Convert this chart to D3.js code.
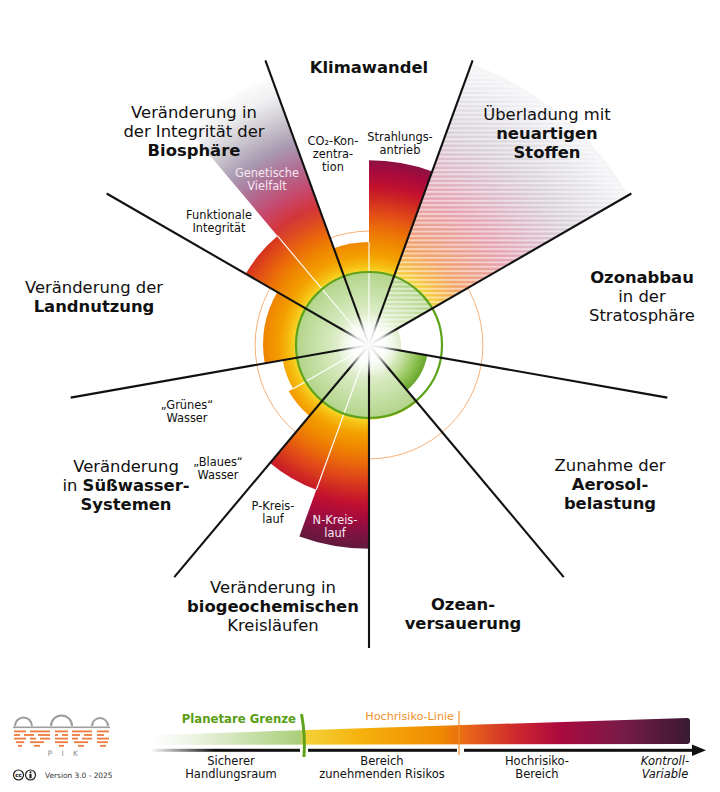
<!DOCTYPE html>
<html><head><meta charset="utf-8">
<script src="https://cdn.jsdelivr.net/npm/d3@7"></script>
<style>
body{margin:0;background:#fff}
svg{display:block}
text{font-family:"DejaVu Sans",sans-serif}
</style>
</head><body>
<svg id="chart" width="720" height="792"></svg>
<script>
// ---------------- DATA ----------------
const sectorNames = ["Klimawandel","Neuartige Stoffe","Ozonabbau","Aerosolbelastung","Ozeanversauerung",
  "Biogeochemische Kreisläufe","Süßwasser","Landnutzung","Biosphäre"];
const wedgeNames  = ["CO2-Konzentration","Strahlungsantrieb","Neuartige Stoffe","Ozonabbau","Aerosole",
  "Ozeanversauerung","N-Kreislauf","P-Kreislauf","Blaues Wasser","Grünes Wasser","Landnutzung",
  "Funktionale Integrität","Genetische Vielfalt"];
const wedgeSector = [0,0,1,2,3,4,5,5,6,6,7,8,8];
const wedgeHalf   = [0,1,2,2,2,2,0,1,0,1,2,0,1];     // 0 = first half, 1 = second half, 2 = whole sector
const wedgeValue  = [1.41,2.53,4.1,0.44,0.81,1.02,2.79,2.11,1.27,1.20,1.45,1.95,3.9]; // in units of the planetary boundary
const wedgeFill   = ["risk","risk","novel","risk","aerosol","risk","risk","risk","risk","risk","risk","risk","genetic"];
const boundaryValue = 1.0;
const highRiskValue = 1.56;
const axisValue = 4.15;

const bigLabels = [
  [[["Klimawandel",1]]],
  [[["Veränderung in",0]],[["der Integrität der",0]],[["Biosphäre",1]]],
  [[["Überladung mit",0]],[["neuartigen",1]],[["Stoffen",1]]],
  [[["Ozonabbau",1]],[["in der",0]],[["Stratosphäre",0]]],
  [[["Veränderung der",0]],[["Landnutzung",1]]],
  [[["Zunahme der",0]],[["Aerosol-",1]],[["belastung",1]]],
  [[["Veränderung",0]],[["in ",0],["Süßwasser-",1]],[["Systemen",1]]],
  [[["Veränderung in",0]],[["biogeochemischen",1]],[["Kreisläufen",0]]],
  [[["Ozean-",1]],[["versauerung",1]]]
];
const smallLabels = [
  ["CO₂-Kon-","zentra-","tion"],
  ["Strahlungs-","antrieb"],
  ["Genetische","Vielfalt"],
  ["Funktionale","Integrität"],
  ["„Grünes“","Wasser"],
  ["„Blaues“","Wasser"],
  ["P-Kreis-","lauf"],
  ["N-Kreis-","lauf"]
];
const legendZones = [["Sicherer","Handlungsraum"],["Bereich","zunehmenden Risikos"],["Hochrisiko-","Bereich"],["Kontroll-","Variable"]];
const legendMarks = ["Planetare Grenze","Hochrisiko-Linie"];

// ---------------- LAYOUT ----------------
const W = 720, H = 792;
const cx = 369, cy = 345;
const bigPos   = [[369,73],[194,118],[547,120],[642,283],[94,293],[610,471],[126,472],[273,593],[463,610]];
const smallPos = [[333,145],[400,141],[267,177],[219,219],[187,409],[218,466],[273,510],[335,524]];
const smallCol = ["#111","#111","#f6e6f0","#111","#111","#111","#111","#f8e8f0"];

const svg = d3.select("#chart");
const defs = svg.append("defs");

const r = d3.scaleLinear().domain([0, boundaryValue]).range([0, 73]);
const sectorAngle = d3.scaleLinear().domain([0, 9]).range([-20, 340]);
const rad = d => d * Math.PI / 180;

// gradients (px radii)
function radial(id, stops) {
  const R = 300;
  const g = defs.append("radialGradient").attr("id", id)
    .attr("gradientUnits","userSpaceOnUse").attr("cx",0).attr("cy",0).attr("r",R);
  stops.forEach(s => g.append("stop").attr("offset", s[0]/R).attr("stop-color", s[1]));
}
const greenStops = [[0,"#ffffff"],[16,"#f1f8ea"],[42,"#d2e7b8"],[72,"#b4d58c"]];
const warmStops = [[73.5,"#f7d82c"],[80,"#f6bd10"],[90,"#f39e00"],[104,"#ef8700"],[118,"#ea6a0a"]];
radial("risk", greenStops.concat(warmStops, [
  [132,"#e04a18"],[146,"#d02a22"],[158,"#c2122e"],[172,"#aa0a3c"],[188,"#821242"],[205,"#5e1a3e"],[225,"#3e1a34"],[300,"#3e1a34"]]));
radial("aerosol", [[0,"#ffffff"],[16,"#f1f8ea"],[34,"#cbe3ab"],[48,"#93c458"],[59,"#68a62c"],[300,"#68a62c"]]);
radial("novel", greenStops.concat([[73.5,"#f7d83a"],[86,"#f6bc48"],[104,"#f2a468"],[130,"#eca090"],
  [160,"#e6a4b4"],[195,"#ddbccb"],[230,"#d9d3db"],[270,"#e8e6ec"],[300,"#f6f6f8"]]));
radial("genetic", greenStops.concat(warmStops, [
  [134,"#de4a22"],[148,"#d2363a"],[166,"#c8466a"],[190,"#b06c92"],[215,"#a99ab2"],[240,"#cbc7cf"],[265,"#efeff1"],[290,"#ffffff"]]));
const glow = defs.append("radialGradient").attr("id","glow");
glow.append("stop").attr("offset",0).attr("stop-color","#fff").attr("stop-opacity",1);
glow.append("stop").attr("offset",0.45).attr("stop-color","#fff").attr("stop-opacity",0.85);
glow.append("stop").attr("offset",1).attr("stop-color","#fff").attr("stop-opacity",0);

// stripe pattern for novel entities
const hatchStripes = defs.append("pattern").attr("id","stripes").attr("patternUnits","userSpaceOnUse")
  .attr("width",10).attr("height",4.4).attr("y",0);
hatchStripes.append("rect").attr("y",0).attr("width",10).attr("height",1.9).attr("fill","#fff").attr("fill-opacity",0.5);

const g = svg.append("g").attr("transform",`translate(${cx},${cy})`);

// high-risk circle
g.append("circle").attr("r", r(highRiskValue)).attr("fill","none").attr("stroke","#f7b27a").attr("stroke-width",1);

// wedges
const arc = d3.arc().innerRadius(0);
const wedges = wedgeNames.map((n,i) => {
  const s0 = sectorAngle(wedgeSector[i]), s1 = sectorAngle(wedgeSector[i]+1);
  const a0 = wedgeHalf[i] === 1 ? (s0+s1)/2 : s0;
  const a1 = wedgeHalf[i] === 0 ? (s0+s1)/2 : s1;
  return {name:n, a0, a1, v:wedgeValue[i], fill:wedgeFill[i]};
});
g.selectAll("path.wedge").data(wedges).join("path").attr("class","wedge")
  .attr("d", d => arc({startAngle:rad(d.a0), endAngle:rad(d.a1), outerRadius:r(d.v)}))
  .attr("fill", d => `url(#${d.fill})`);
// stripes over novel entities
g.selectAll("path.stripe").data(wedges.filter(d => d.fill==="novel")).join("path").attr("class","stripe")
  .attr("d", d => arc({startAngle:rad(d.a0), endAngle:rad(d.a1), outerRadius:r(d.v)*0.99, innerRadius:r(1.0)}))
  .attr("fill","url(#stripes)");

// white dividers between sub-wedges
const subDiv = [];
d3.range(9).forEach(s => {
  const idx = wedgeSector.map((v,i)=>[v,i]).filter(p => p[0]===s).map(p=>p[1]);
  if (idx.length === 2) subDiv.push({a:(sectorAngle(s)+sectorAngle(s+1))/2, v:Math.min(wedgeValue[idx[0]], wedgeValue[idx[1]])});
});
g.selectAll("line.sub").data(subDiv).join("line").attr("class","sub")
  .attr("x1",0).attr("y1",0)
  .attr("x2", d => r(d.v)*Math.sin(rad(d.a))).attr("y2", d => -r(d.v)*Math.cos(rad(d.a)))
  .attr("stroke","#fff").attr("stroke-width",1.1);

// boundary circle
g.append("circle").attr("r", r(boundaryValue)).attr("fill","none").attr("stroke","#5fa31c").attr("stroke-width",2.2);

// sector lines
g.selectAll("line.sec").data(d3.range(9)).join("line").attr("class","sec")
  .attr("x1",0).attr("y1",0)
  .attr("x2", i => r(axisValue)*Math.sin(rad(sectorAngle(i)))).attr("y2", i => -r(axisValue)*Math.cos(rad(sectorAngle(i))))
  .attr("stroke","#111").attr("stroke-width",2.1);

// center glow
g.append("circle").attr("r",32).attr("fill","url(#glow)");

// ---------------- LABELS ----------------
function lines(sel, arr, x, y, lh, size, color, opts={}) {
  const t = sel.append("text").attr("x",x).attr("y",y).attr("text-anchor",opts.anchor||"middle")
    .attr("font-size",size).attr("fill",color);
  if (opts.italic) t.attr("font-style","italic");
  arr.forEach((ln,k) => {
    const segs = Array.isArray(ln) ? ln : [[ln,opts.bold?1:0]];
    segs.forEach((sg,j) => {
      const ts = t.append("tspan").text(sg[0]).attr("font-weight", sg[1] ? "bold":"normal");
      if (j===0) ts.attr("x",x).attr("y", y + k*lh);
    });
  });
  return t;
}
bigLabels.forEach((lb,i) => lines(svg, lb, bigPos[i][0], bigPos[i][1], 19, 16.4, "#111"));
smallLabels.forEach((lb,i) => lines(svg, lb, smallPos[i][0], smallPos[i][1], 13, 11.4, smallCol[i]));

// ---------------- LEGEND ----------------
const lg = svg.append("g");
const lx = d3.scaleLinear().domain([0,1]).range([152,690]);
const lgrad = defs.append("linearGradient").attr("id","lgrad").attr("gradientUnits","userSpaceOnUse")
  .attr("x1",152).attr("x2",690).attr("y1",0).attr("y2",0);
[[152,"#ffffff"],[190,"#eef5e6"],[300,"#a9cf7a"],[304,"#f3d23a"],[360,"#f5b20e"],[440,"#f08a00"],
 [470,"#e6621a"],[520,"#cb2430"],[560,"#aa0a3e"],[620,"#7a1a48"],[690,"#3a1a32"]]
 .forEach(s => lgrad.append("stop").attr("offset",(s[0]-152)/538).attr("stop-color",s[1]));
lg.append("path").attr("d",`M${lx(0)},735 L${lx(1)-3},718 Q${lx(1)},718 ${lx(1)},721 L${lx(1)},741 Q${lx(1)},744 ${lx(1)-3},744 L${lx(0)},745 Z`)
  .attr("fill","url(#lgrad)");

const agrad = defs.append("linearGradient").attr("id","agrad").attr("gradientUnits","userSpaceOnUse")
  .attr("x1",150).attr("x2",215).attr("y1",0).attr("y2",0);
agrad.append("stop").attr("offset",0).attr("stop-color","#fff");
agrad.append("stop").attr("offset",1).attr("stop-color","#111");
lg.append("rect").attr("x",150).attr("y",748.8).attr("width",150).attr("height",3).attr("fill","url(#agrad)");
lg.append("rect").attr("x",308).attr("y",748.8).attr("width",149).attr("height",3).attr("fill","#111");
lg.append("rect").attr("x",464).attr("y",748.8).attr("width",230).attr("height",3).attr("fill","#111");
lg.append("path").attr("d","M692,744.5 L706,750.3 L692,756 Z").attr("fill","#111");

// boundary mark & high-risk mark
lg.append("path").attr("d","M301.5,714 Q305.5,735 304,757").attr("fill","none").attr("stroke","#5fa31c").attr("stroke-width",3);
lg.append("line").attr("x1",459).attr("x2",459).attr("y1",711).attr("y2",755).attr("stroke","#f0902a").attr("stroke-width",1.2);
lg.append("text").attr("x",296).attr("y",723).attr("text-anchor","end").attr("font-size",11.7).attr("font-weight","bold")
  .attr("fill","#5a9e14").text(legendMarks[0]);
lg.append("text").attr("x",454).attr("y",720).attr("text-anchor","end").attr("font-size",11.2)
  .attr("fill","#f0902a").text(legendMarks[1]);
const zoneX = [231,382,537,665];
legendZones.forEach((z,i) => lines(lg, z, zoneX[i], 765, 12.6, 11.5, "#111", {italic: i===3}));

// ---------------- LOGO ----------------
const logo = svg.append("g");
[[23.5,8.5],[61.5,10.5],[100,8]].forEach(d => {
  logo.append("path").attr("d", d3.arc()({innerRadius:d[1]-1, outerRadius:d[1]+1, startAngle:-Math.PI/2, endAngle:Math.PI/2}))
    .attr("transform",`translate(${d[0]},726)`).attr("fill","#9d9d9d");
});
logo.append("rect").attr("x",13).attr("y",726.5).attr("width",97).attr("height",1.6).attr("fill","#9d9d9d");
const dashRows = [
  [[14,26],[30,50],[55,68],[72,92],[97,109]],
  [[14,20],[24,34],[38,50],[55,58],[62,68],[72,80],[84,92],[97,104]],
  [[14,26],[30,36],[40,50],[55,68],[72,78],[82,92],[97,109]],
  [[16,24],[30,44],[55,68],[74,88],[97,108]],
  [[18,22],[34,40],[59,64],[78,84],[100,106]]
];
dashRows.forEach((row,k) => row.forEach(s => logo.append("rect").attr("x",s[0]).attr("y",730.5+k*3.6)
  .attr("width",s[1]-s[0]).attr("height",1.8).attr("fill","#ee7b3c")));
["P","I","K"].forEach((c,i) => logo.append("text").attr("x",50+i*12.7).attr("y",756).attr("text-anchor","middle")
  .attr("font-size",7.5).attr("fill","#8a8a8a").text(c));
logo.append("circle").attr("cx",18.5).attr("cy",775).attr("r",5).attr("fill","#fff").attr("stroke","#222").attr("stroke-width",1.2);
logo.append("text").attr("x",18.5).attr("y",777.3).attr("text-anchor","middle").attr("font-size",5.6).attr("font-weight","bold").text("cc");
logo.append("circle").attr("cx",30.5).attr("cy",775).attr("r",5).attr("fill","#fff").attr("stroke","#222").attr("stroke-width",1.2);
logo.append("circle").attr("cx",30.5).attr("cy",772.3).attr("r",1).attr("fill","#222");
logo.append("rect").attr("x",29.4).attr("y",773.8).attr("width",2.2).attr("height",4.5).attr("fill","#222");
logo.append("text").attr("x",45).attr("y",778).attr("font-size",7.4).attr("fill","#333").text("Version 3.0 - 2025");
</script>
</body></html>
